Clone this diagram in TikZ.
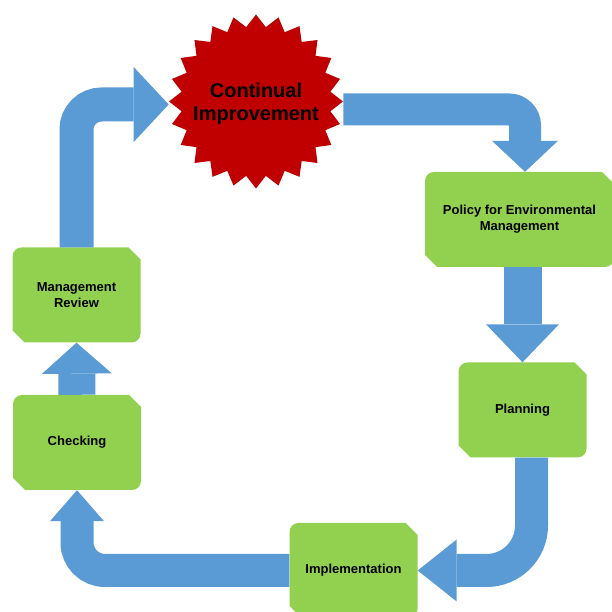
\documentclass[tikz,border=0pt]{standalone}
\usepackage{fontspec}
\setmainfont{Liberation Sans}
\usetikzlibrary{positioning,shapes.geometric,arrows.meta}
\definecolor{flowblue}{HTML}{5B9BD5}
\definecolor{stagegreen}{HTML}{92D050}
\definecolor{burstred}{HTML}{C00000}
\tikzstyle{stage} = [minimum width=128pt, minimum height=95pt, inner sep=0pt, align=center,
	font=\bfseries\fontsize{13}{16}\selectfont,
	path picture={\fill[stagegreen]
		([yshift=-9pt]path picture bounding box.north west)
		arc[start angle=180, end angle=90, radius=9pt]
		-- ([xshift=-12pt]path picture bounding box.north east)
		-- ([yshift=-12pt]path picture bounding box.north east)
		-- ([yshift=9pt]path picture bounding box.south east)
		arc[start angle=0, end angle=-90, radius=9pt]
		-- ([xshift=12pt]path picture bounding box.south west)
		-- ([yshift=12pt]path picture bounding box.south west) -- cycle;}]
\tikzstyle{burst} = [star, star points=24, star point ratio=1.16, minimum size=174pt, inner sep=0pt,
	fill=burstred]
\tikzstyle{bursttext} = [align=center, font=\bfseries\fontsize{20}{23}\selectfont]
\tikzstyle{flow} = [draw=flowblue, line width=34pt, rounded corners=25pt]

\begin{document}
\begin{tikzpicture}[x=1pt,y=1pt]
			\useasboundingbox (0,0) rectangle (612,612);
			\clip (0,0) rectangle (612,612);
			\node[burst, label={[bursttext, yshift=-2pt]center:Continual\\Improvement}] (ci) at (256,510.5) {};
			\node[stage, minimum width=189pt] (policy) at (519.5,392.5) {Policy for Environmental\\Management};
			\node[stage] (plan) at (522.5,202) {Planning};
			\node[stage] (impl) at (353.5,41.5) {Implementation};
			\node[stage] (check) at (77,169.5) {Checking};
			\node[stage] (review) at (76.5,317) {Management\\Review};
			\draw[flow, -{Triangle[length=35pt,width=75pt,line width=0pt]}] (review.north) |- ([yshift=-3pt]ci.west);
			\draw[flow, line width=32pt, rounded corners=16pt, -{Triangle[length=31pt,width=66pt,line width=0pt]}] ([yshift=-8pt]ci.east) -| ([xshift=5.5pt]policy.north);
			\draw[flow, line width=38pt, -{Triangle[length=38pt,width=73pt,line width=0pt]}] (plan.north |- policy.south) -- (plan.north);
			\draw[flow, line width=33pt, rounded corners=45pt, -{Triangle[length=39pt,width=62pt,line width=0pt]}] ([xshift=9pt]plan.south) |- (impl.east);
			\draw[flow, line width=33pt, rounded corners=28pt, -{Triangle[length=31pt,width=54pt,line width=0pt]}] (impl.west) -| (check.south);
			\draw[flow, line width=37pt, -{Triangle[length=31pt,width=70pt,line width=0pt]}] (check.north) -- (review.south);
		\end{tikzpicture}
\end{document}
